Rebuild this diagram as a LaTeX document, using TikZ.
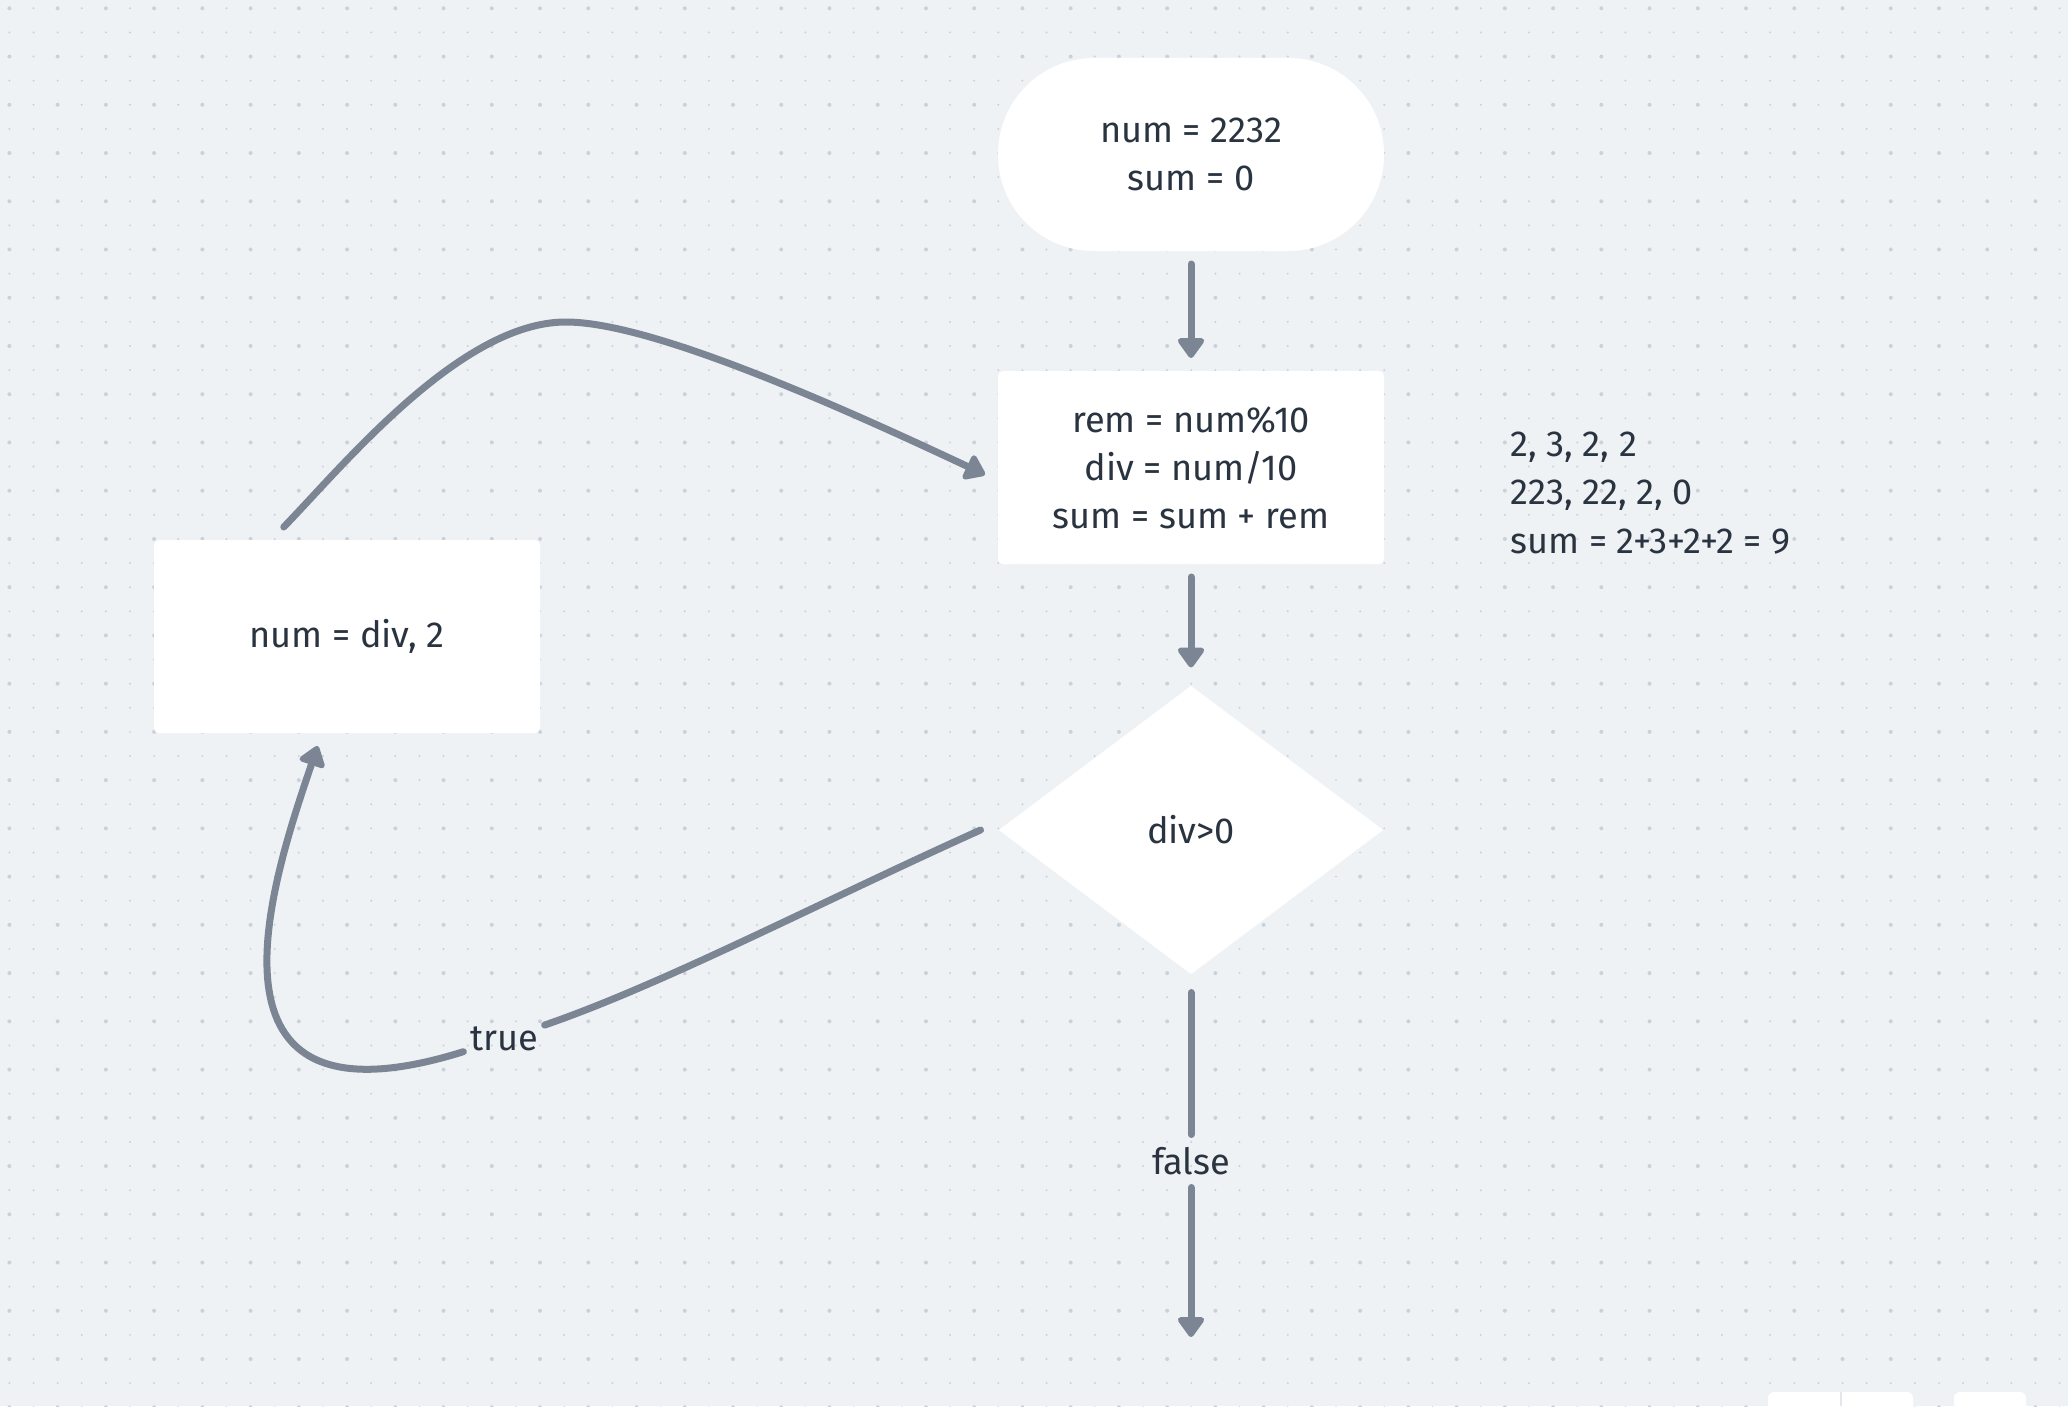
\documentclass[tikz,border=0pt]{standalone}
\usepackage{fontspec}
\setmainfont{Fira Sans}
\usepackage{tikz}
\usetikzlibrary{shapes.geometric,arrows.meta}
\definecolor{canvas}{HTML}{EFF2F5}
\definecolor{dotgrey}{HTML}{CAD1DB}
\definecolor{wire}{HTML}{7B8594}
\definecolor{ink}{HTML}{2A3340}
\definecolor{seam}{HTML}{E3E7EC}
\begin{document}
\begin{tikzpicture}[
                        box/.style={fill=white, minimum width=3.86cm, minimum height=1.93cm, outer sep=0.13cm, align=center, text=ink, font=\fontsize{10.3}{13.7}\selectfont},
                        lbl/.style={text=ink, inner xsep=0.06cm, inner ysep=0.12cm, font=\fontsize{10.3}{13.7}\selectfont},
                        flow/.style={draw=wire, line width=0.07cm, line cap=round},
                        flowarrow/.style={flow, -{Triangle[length=0.22cm,width=0.3cm,round]}}
                    ]
                        \useasboundingbox (0,0) rectangle (20.68,-14.06);
                        \clip (0,0) rectangle (20.68,-14.06);
                        \fill[canvas] (0,0) rectangle (20.68,-14.06);
                        \foreach \i in {0,...,85}
                        {
                            \foreach \j in {0,...,58}
                            {
                                \fill[dotgrey] (0.094+\i*0.2412,-0.083-\j*0.2412) circle (0.011);
                            }
                        }
                        \foreach \i in {0,2,...,84}
                        {
                            \foreach \j in {0,2,...,58}
                            {
                                \fill[dotgrey] (0.094+\i*0.2412,-0.083-\j*0.2412) circle (0.02);
                            }
                        }
                        \node [box, rounded corners=0.96cm] (start) at (11.91,-1.545) {num = 2232\\sum = 0};
                        \node [box, rounded corners=0.05cm] (proc) at (11.91,-4.675) {rem = num\%10\\div = num/10\\sum = sum + rem};
                        \node [box, diamond, minimum width=3.95cm, minimum height=2.99cm, inner sep=0pt] (cond) at (11.91,-8.30) {div>0};
                        \node [box, rounded corners=0.05cm] (numdiv) at (3.47,-6.365) {num = div, 2};
                        \node [anchor=west, align=left, text=ink, font=\fontsize{10.3}{13.7}\selectfont] (trace) at (14.98,-4.93) {2, 3, 2, 2\\223, 22, 2, 0\\sum = 2+3+2+2 = 9};
                        \node [lbl, inner ysep=0.05cm] (yes) at (5.04,-10.39) {true};
                        \node [lbl] (no) at (11.91,-11.61) {false};
                        \coordinate (out) at (11.91,-13.37);
                        \draw [flowarrow] (start) -- (proc);
                        \draw [flowarrow] (proc) -- (cond);
                        \draw [flow] (cond) -- (no);
                        \draw [flowarrow] (no) -- (out);
                        \draw [flow] (cond.west) .. controls +(-1.6,-0.72) and +(1.6,0.55) .. (yes);
                        \draw [flowarrow] (yes) .. controls +(-3.2,-1.0) and +(-0.45,-1.33) .. (numdiv.-105);
                        \draw [flowarrow] (numdiv.120) .. controls +(0.6,0.62) and +(-1.05,0) .. ++(2.82,2.05) .. controls +(0.8,0) and +(-1.70,0.80) .. (proc.182);
                        \fill [white, rounded corners=0.06cm] (17.68,-14.3) rectangle (19.13,-13.92);
                        \draw [seam, line width=0.02cm] (18.41,-13.92) -- (18.41,-14.06);
                        \fill [white, rounded corners=0.06cm] (19.54,-14.3) rectangle (20.26,-13.92);
                    \end{tikzpicture}
\end{document}
